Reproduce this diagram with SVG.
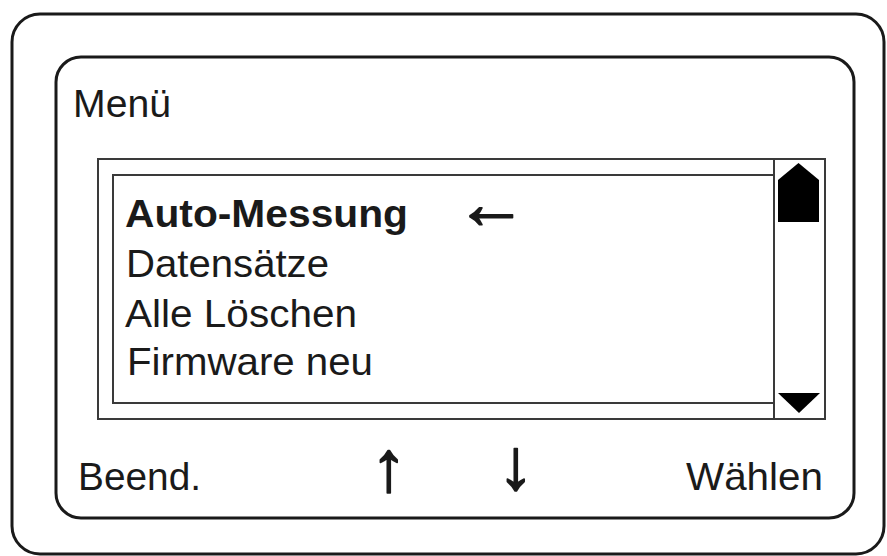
<svg xmlns="http://www.w3.org/2000/svg" width="887" height="556" viewBox="0 0 887 556">
  <style>
    .frame { fill: none; stroke: #1a1a1a; stroke-width: 3; }
    .box { fill: none; stroke: #3a3a3a; stroke-width: 2; }
    .lbl { font-family: "Liberation Sans", Arial, sans-serif; font-size: 39px; fill: #1a1a1a; }
    .bold { font-weight: bold; }
    .arrow { font-family: "Liberation Sans", "DejaVu Sans", sans-serif; font-size: 72px; fill: #1a1a1a; stroke: #1a1a1a; stroke-width: 1.6; stroke-linejoin: round; }
    .mark { fill: #000; }
  </style>

  <!-- device housing -->
  <g id="housing">
    <rect class="frame" x="12" y="14" width="872" height="540" rx="28" ry="28"/>
  </g>

  <!-- display panel -->
  <g id="display">
    <rect class="frame" x="56" y="57" width="798" height="461" rx="25" ry="25"/>
    <text class="lbl" x="73" y="117" textLength="98" lengthAdjust="spacingAndGlyphs">Menü</text>
  </g>

  <!-- menu list with scrollbar -->
  <g id="menu-list">
    <rect class="box" x="98" y="159" width="727" height="260"/>
    <rect class="box" x="113" y="175" width="661" height="228"/>
    <line class="box" x1="774" y1="159" x2="774" y2="419"/>
    <text class="lbl bold" x="125" y="227" textLength="283" lengthAdjust="spacingAndGlyphs">Auto-Messung</text>
    <text class="arrow" x="455" y="228">←</text>
    <text class="lbl" x="126" y="277" textLength="203" lengthAdjust="spacingAndGlyphs">Datensätze</text>
    <text class="lbl" x="125" y="327" textLength="232" lengthAdjust="spacingAndGlyphs">Alle Löschen</text>
    <text class="lbl" x="127" y="375" textLength="246" lengthAdjust="spacingAndGlyphs">Firmware neu</text>
  </g>

  <!-- scrollbar thumb and down marker -->
  <g id="scrollbar">
    <polygon class="mark" points="778,180 798.5,163 819,180 819,222 778,222"/>
    <polygon class="mark" points="778,393 820,393 799,413"/>
  </g>

  <!-- soft-key labels -->
  <g id="softkeys">
    <text class="lbl" x="78" y="490" textLength="123" lengthAdjust="spacingAndGlyphs">Beend.</text>
    <text class="arrow" x="371" y="491">↑</text>
    <text class="arrow" x="498" y="489">↓</text>
    <text class="lbl" x="686" y="490" textLength="137" lengthAdjust="spacingAndGlyphs">Wählen</text>
  </g>
</svg>
